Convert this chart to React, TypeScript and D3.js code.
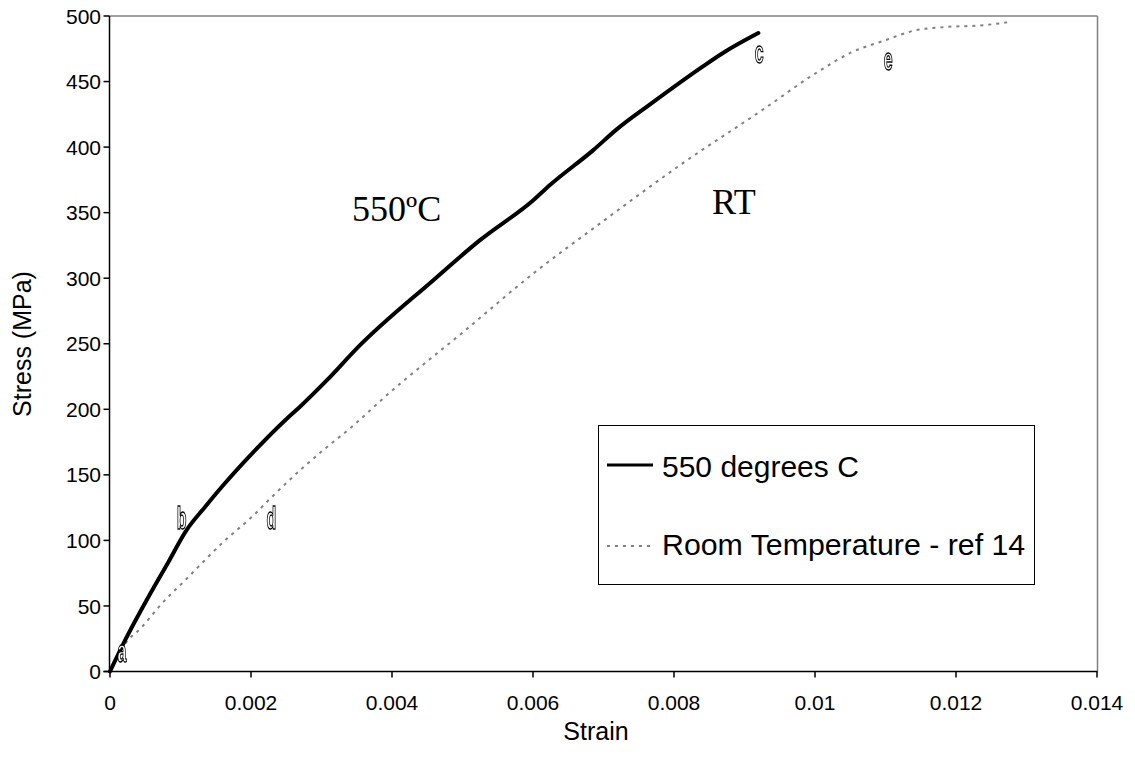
import React from "react";
import * as d3 from "d3";

// 550 degrees C curve (strain, stress MPa)
const hotStrain = [0, 0.000213, 0.000543, 0.000827, 0.001088, 0.001348, 0.001584, 0.00201, 0.00253, 0.002695, 0.003074, 0.003522, 0.004586, 0.005248, 0.006004, 0.00624, 0.006855, 0.007187, 0.00766, 0.008416, 0.0087, 0.009196];
const hotStress = [0, 23.7, 56.7, 83.4, 108, 125.5, 140.7, 166, 194, 202, 222, 247.6, 298.5, 329, 359.5, 371, 397.7, 413.5, 432.6, 461.8, 472, 487];

// Room temperature - ref 14
const rtStrain = [0, 0.000213, 0.000449, 0.000733, 0.001064, 0.001631, 0.00201, 0.002294, 0.00272, 0.00305, 0.003428, 0.003925, 0.005011, 0.006004, 0.006904, 0.008132, 0.009267, 0.01002, 0.01054, 0.01097, 0.01144, 0.01182, 0.01239, 0.01279];
const rtStress = [0, 21, 33.8, 51.7, 69.5, 100, 117.8, 133, 154.7, 170, 186.5, 210.7, 259, 303.6, 339.9, 388, 428.8, 456.7, 472.8, 481, 489.3, 491.5, 493, 495.6];

const xTicks = [0, 0.002, 0.004, 0.006, 0.008, 0.01, 0.012, 0.014];
const xTickLabels = ["0", "0.002", "0.004", "0.006", "0.008", "0.01", "0.012", "0.014"];
const yTicks = [0, 50, 100, 150, 200, 250, 300, 350, 400, 450, 500];

const pointLabels = ["a", "b", "c", "d", "e"];
const pointStrain = [0.00017, 0.001015, 0.00921, 0.00229, 0.01104];
const pointStress = [15.5, 117, 473, 117, 467];

const legendNames = ["550 degrees C", "Room Temperature - ref 14"];

export default function App() {
  const W = 1135, H = 759;
  const x = d3.scaleLinear().domain([0, 0.014]).range([110, 1097]);
  const y = d3.scaleLinear().domain([0, 500]).range([671.5, 16]);
  const line = d3.line<[number, number]>().x(d => x(d[0])).y(d => y(d[1])).curve(d3.curveMonotoneX);
  const hot = hotStrain.map((s, i) => [s, hotStress[i]] as [number, number]);
  const rt = rtStrain.map((s, i) => [s, rtStress[i]] as [number, number]);
  const L = 109.5, R = 1097.5, T = 16, B = 671.5;
  return (
    <svg width={W} height={H} style={{ position: "absolute", left: 0, top: 0, background: "#fff" }}
      fontFamily="Arial, 'Liberation Sans', sans-serif">
      <rect x={0} y={0} width={W} height={H} fill="#fff" />
      {/* frame */}
      <line x1={L} y1={T} x2={R} y2={T} stroke="#808080" strokeWidth={1.5} />
      <line x1={R} y1={T} x2={R} y2={B} stroke="#808080" strokeWidth={1.5} />
      <line x1={L} y1={T} x2={L} y2={B} stroke="#000" strokeWidth={1.5} />
      <line x1={L - 6} y1={B} x2={R} y2={B} stroke="#000" strokeWidth={1.5} />
      {yTicks.map(t => (
        <g key={t}>
          <line x1={L - 6} x2={L} y1={y(t)} y2={y(t)} stroke="#000" strokeWidth={1.5} />
          <text x={101} y={y(t)} dy="0.36em" textAnchor="end" fontSize={21}>{t}</text>
        </g>
      ))}
      {xTicks.map((t, i) => (
        <g key={t}>
          <line x1={x(t)} x2={x(t)} y1={B} y2={B + 6} stroke="#000" strokeWidth={1.5} />
          <text x={x(t)} y={710} textAnchor="middle" fontSize={21}>{xTickLabels[i]}</text>
        </g>
      ))}
      <text x={596} y={740} textAnchor="middle" fontSize={25}>Strain</text>
      <text transform="translate(31,344) rotate(-90)" textAnchor="middle" fontSize={25}>Stress (MPa)</text>

      <path d={line(rt) || ""} fill="none" stroke="#808080" strokeWidth={2} strokeDasharray="3,5" />
      <path d={line(hot) || ""} fill="none" stroke="#000" strokeWidth={4} strokeLinejoin="round" strokeLinecap="round" />

      <g opacity={0.995} style={{ willChange: "transform" }}>
        {pointLabels.map((p, i) => (
          <text key={p} transform={`translate(${x(pointStrain[i])},${y(pointStress[i])}) scale(0.5,1)`}
            textAnchor="middle" dy="0.35em" fontSize={32} fontWeight="bold"
            fill="#fff" stroke="#000" strokeWidth={1.4}>{p}</text>
        ))}
      </g>

      <text x={352} y={221} fontFamily="'Liberation Serif', 'Times New Roman', serif" fontSize={36}>550ºC</text>
      <text x={712} y={214} fontFamily="'Liberation Serif', 'Times New Roman', serif" fontSize={36}>RT</text>

      {/* legend */}
      <rect x={598.5} y={425.5} width={436} height={159} fill="#fff" stroke="#000" strokeWidth={1} />
      <line x1={607} x2={653} y1={465} y2={465} stroke="#000" strokeWidth={3} />
      <text x={662} y={477} fontSize={30}>{legendNames[0]}</text>
      <line x1={607} x2={653} y1={546} y2={546} stroke="#808080" strokeWidth={2} strokeDasharray="3,5" />
      <text x={662} y={555} fontSize={30.3}>{legendNames[1]}</text>
    </svg>
  );
}
